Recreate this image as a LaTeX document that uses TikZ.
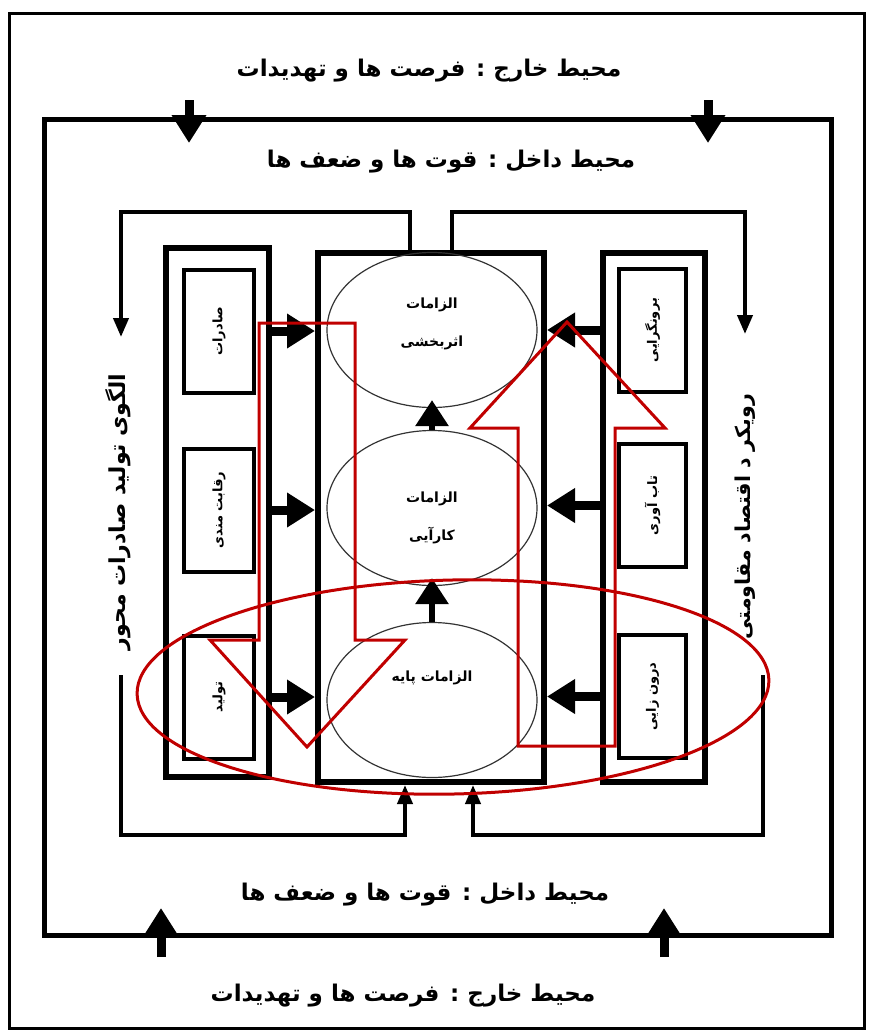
\documentclass[tikz,border=0pt]{standalone}
\usepackage{fontspec}
\usepackage{tikz}
\usetikzlibrary{shapes,arrows.meta,positioning,calc}
\TeXXeTstate=1
\newfontfamily\farsi[Script=Arabic]{DejaVu Sans}
\definecolor{markred}{RGB}{192,0,0}
\newcommand{\fa}[1]{{\farsi\beginR #1\endR}}

\begin{document}
\begin{tikzpicture}[x=1pt, y=-1pt, >=Triangle]
        % Styles
        \tikzstyle{envframe} = [rectangle, draw, inner sep=0pt]
        \tikzstyle{column} = [rectangle, draw, line width=6pt, inner sep=0pt, minimum height=529pt]
        \tikzstyle{itembox} = [rectangle, draw, line width=4pt, inner sep=0pt, minimum height=123pt]
        \tikzstyle{needell} = [ellipse, draw=black!80, line width=1.2pt, minimum width=210pt, minimum height=155pt, inner sep=0pt]
        \tikzstyle{envtext} = [font=\bfseries\fontsize{23}{26}\selectfont]
        \tikzstyle{sidetext} = [rotate=90, font=\bfseries\fontsize{22}{25}\selectfont]
        \tikzstyle{itemtext} = [rotate=90, font=\bfseries\fontsize{13}{15}\selectfont]
        \tikzstyle{needtext} = [align=center, font=\bfseries\fontsize{14}{38}\selectfont]
        \tikzstyle{bigarrow} = [draw, line width=9pt, -{Triangle[width=33pt,length=28pt]}]
        \tikzstyle{uparrow} = [draw, line width=6pt, -{Triangle[width=32pt,length=26pt]}]
        \tikzstyle{feedback} = [draw, line width=4pt, -{Triangle[width=15pt,length=19pt]}]
        \tikzstyle{marker} = [draw=markred, line width=3pt, line join=miter]

        \useasboundingbox (0,0) rectangle (872,1034);

        % Frames
        \node [envframe, line width=3.5pt, minimum width=855pt, minimum height=1015pt] (outer) at (437,521) {};
        \node [envframe, line width=5pt, minimum width=787pt, minimum height=816pt] (inner) at (437.5,527) {};

        % Nodes
        \node [envtext] (outtop) at (429,71) {\fa{محیط خارج : فرصت ها و تهدیدات}};
        \node [envtext] (intop) at (451,162) {\fa{محیط داخل : قوت ها و ضعف ها}};
        \node [envtext] (inbot) at (425,895) {\fa{محیط داخل : قوت ها و ضعف ها}};
        \node [envtext] (outbot) at (403,996) {\fa{محیط خارج : فرصت ها و تهدیدات}};

        \node [column, minimum width=103pt] (lcol) at (217.5,512.5) {};
        \node [column, minimum width=226pt] (cbox) at (431,517.5) {};
        \node [column, minimum width=102pt] (rcol) at (654,517.5) {};

        \node [itembox, minimum width=70pt] (saderat) at (219,331) {};
        \node [itembox, minimum width=70pt, below of=saderat, node distance=179pt] (reghabat) {};
        \node [itembox, minimum width=70pt, below of=reghabat, node distance=187pt] (tolid) {};
        \node [itemtext] at (saderat) {\fa{صادرات}};
        \node [itemtext] at (reghabat) {\fa{رقابت مندی}};
        \node [itemtext] at (tolid) {\fa{تولید}};

        \node [itembox, minimum width=67pt] (boron) at (652.5,330) {};
        \node [itembox, minimum width=67pt, below of=boron, node distance=175.5pt] (tab) {};
        \node [itembox, minimum width=67pt, below of=tab, node distance=191pt] (daron) {};
        \node [itemtext] at (boron) {\fa{برونگرایی}};
        \node [itemtext] at (tab) {\fa{تاب آوری}};
        \node [itemtext] at (daron) {\fa{درون زایی}};

        \node [needell] (asar) at (432,330) {};
        \node [needell] (kara) at (432,508) {};
        \node [needell] (paye) at (432,700) {};
        \node [needtext] (asartxt) at (432,324) {\fa{الزامات}\\\fa{اثربخشی}};
        \node [needtext] (karatxt) at (432,518) {\fa{الزامات}\\\fa{کارآیی}};
        \node [needtext] (payetxt) at (432,678) {\fa{الزامات پایه}};

        \node [sidetext] (ltext) at (118,512) {\fa{الگوی تولید صادرات محور}};
        \node [sidetext, font=\bfseries\fontsize{20.5}{24}\selectfont] (rtext) at (745,517) {\fa{رویکر د اقتصاد مقاومتی}};

        % Coordinates
        \coordinate (ta1s) at (189,100);
        \coordinate (ta1e) at (189,143);
        \coordinate (ta2s) at (708,100);
        \coordinate (ta2e) at (708,143);
        \coordinate (ba1s) at (161,957);
        \coordinate (ba1e) at (161,908);
        \coordinate (ba2s) at (664,957);
        \coordinate (ba2e) at (664,908);
        \coordinate (tlend) at (121,337);
        \coordinate (trend) at (745,334);
        \coordinate (blstart) at (121,675);
        \coordinate (brstart) at (763,675);

        % Edges
        \path [bigarrow] (ta1s) -- (ta1e);
        \path [bigarrow] (ta2s) -- (ta2e);
        \path [bigarrow] (ba1s) -- (ba1e);
        \path [bigarrow] (ba2s) -- (ba2e);

        \path [bigarrow] (saderat -| lcol.east) -- (saderat -| cbox.west);
        \path [bigarrow] (reghabat -| lcol.east) -- (reghabat -| cbox.west);
        \path [bigarrow] (tolid -| lcol.east) -- (tolid -| cbox.west);
        \path [bigarrow] (boron -| rcol.west) -- (boron -| cbox.east);
        \path [bigarrow] (tab -| rcol.west) -- (tab -| cbox.east);
        \path [bigarrow] (daron -| rcol.west) -- (daron -| cbox.east);

        \path [uparrow] (kara.north) -- ([yshift=8pt]asar.south);
        \path [uparrow] (paye.north) -- ([yshift=8pt]kara.south);

        \path [feedback] ([xshift=-21pt]cbox.north) -- ++(0,-38) -| (tlend);
        \path [feedback] ([xshift=21pt]cbox.north) -- ++(0,-38) -| (trend);
        \path [feedback] (blstart) -- ++(0,160) -| ([xshift=-26pt]cbox.south);
        \path [feedback] (brstart) -- ++(0,160) -| ([xshift=42pt]cbox.south);

        % Red marks
        \node [marker, ellipse, minimum width=632pt, minimum height=214pt, rotate=1.3] (ring) at (453,687) {};
        \draw [marker] (259,323) -- (355,323) -- (355,640) -- (405,640) -- (307,747) -- (210,640) -- (259,640) -- cycle;
        \draw [marker] (518,746) -- (615,746) -- (615,428) -- (665,428) -- (567,322) -- (470,428) -- (518,428) -- cycle;
\end{tikzpicture}
\end{document}
